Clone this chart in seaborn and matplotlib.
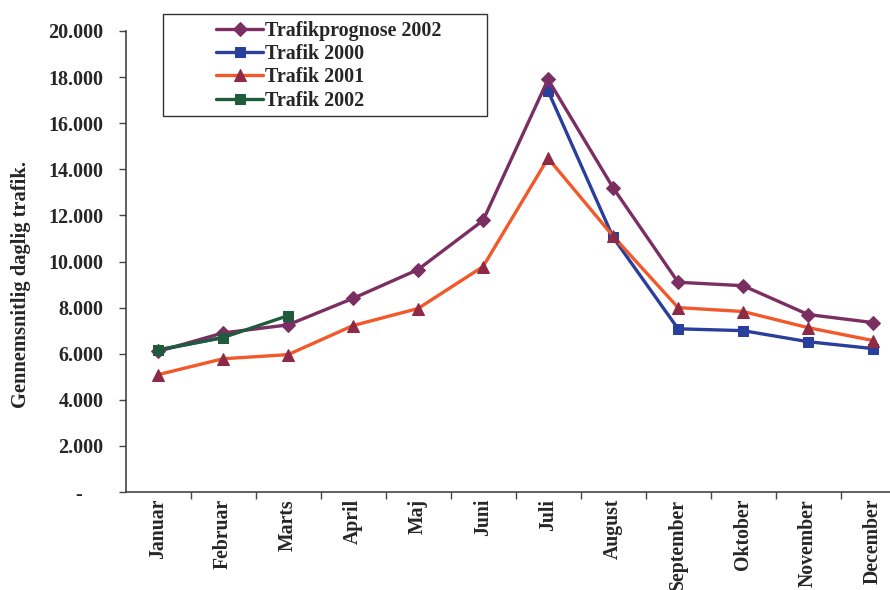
import numpy as np
import pandas as pd
import matplotlib
matplotlib.use("Agg")
import matplotlib.pyplot as plt
from matplotlib.ticker import FuncFormatter, FixedLocator
from matplotlib.patches import Rectangle
import seaborn as sns

months = ["Januar", "Februar", "Marts", "April", "Maj", "Juni", "Juli",
          "August", "September", "Oktober", "November", "December"]

prognose_2002 = [6100, 6900, 7250, 8400, 9650, 11780, 17900, 13200, 9100, 8950, 7700, 7350]
trafik_2000 = [6150, 6700, np.nan, np.nan, np.nan, np.nan, 17400, 11050, 7080, 7000, 6520, 6220]
trafik_2001 = [5090, 5780, 5960, 7220, 7960, 9780, 14480, 11100, 8000, 7830, 7130, 6570]
trafik_2002 = [6170, 6700, 7650, np.nan, np.nan, np.nan, np.nan, np.nan, np.nan, np.nan, np.nan, np.nan]

y_ticks = [0, 2000, 4000, 6000, 8000, 10000, 12000, 14000, 16000, 18000, 20000]

sns.set_style("ticks")
plt.rcParams["font.family"] = ["Liberation Serif", "DejaVu Serif"]
plt.rcParams["font.weight"] = "bold"

fig = plt.figure(figsize=(8.9, 5.9), dpi=100)
ax = fig.add_axes([125.5 / 890, 98 / 590, 764.5 / 890, 461 / 590])

pos = np.arange(len(months))
df = pd.DataFrame({
    "pos": pos,
    "Trafikprognose 2002": prognose_2002,
    "Trafik 2000": trafik_2000,
    "Trafik 2001": trafik_2001,
    "Trafik 2002": trafik_2002,
})

purple = "#7B2E62"
blue = "#2A3E9C"
orange = "#F2592A"
darkred = "#8E2A45"
green = "#1F5B3C"

lw = 2.4
ms = 7
# 2000 series: drawn in runs so the months without counts stay empty
s2000 = df[["pos", "Trafik 2000"]]
sns.lineplot(data=s2000.iloc[:2], x="pos", y="Trafik 2000", ax=ax, color=blue, lw=lw,
             marker="s", markersize=ms, markeredgecolor=blue, zorder=2,
             label="Trafik 2000")
sns.lineplot(data=s2000.iloc[6:], x="pos", y="Trafik 2000", ax=ax, color=blue, lw=lw,
             marker="s", markersize=ms, markeredgecolor=blue, zorder=2)
sns.lineplot(data=df, x="pos", y="Trafik 2001", ax=ax, color=orange, lw=lw,
             marker="^", markersize=ms + 1.5, markerfacecolor=darkred,
             markeredgecolor=darkred, zorder=3, label="Trafik 2001")
sns.lineplot(data=df, x="pos", y="Trafikprognose 2002", ax=ax, color=purple, lw=lw,
             marker="D", markersize=ms, markeredgecolor=purple, zorder=4,
             label="Trafikprognose 2002")
sns.lineplot(data=df[["pos", "Trafik 2002"]].dropna(), x="pos", y="Trafik 2002", ax=ax,
             color=green, lw=lw, marker="s", markersize=ms, markeredgecolor=green,
             zorder=5, label="Trafik 2002")

ax.set_xlim(-0.5, 11.26)
ax.set_ylim(0, 20000)

# Month labels centred on categories, tick marks on the category boundaries
ax.set_xticks(pos)
ax.set_xticklabels(months, rotation=90, fontsize=14.2, fontweight="bold")
ax.tick_params(axis="x", which="major", length=0, pad=5)
ax.xaxis.set_minor_locator(FixedLocator(pos[:-1] + 0.5))
ax.tick_params(axis="x", which="minor", length=5, width=1, color="#444444", direction="out")

ax.set_yticks(y_ticks)
ax.yaxis.set_major_formatter(FuncFormatter(
    lambda v, _: "-\u2007\u2007" if v == 0 else f"{int(v):,}".replace(",", ".")))
ax.tick_params(axis="y", length=5, width=1, color="#444444", labelsize=14.5, pad=11)
for lbl in ax.get_yticklabels():
    lbl.set_fontweight("bold")

ax.set_xlabel("")
ax.set_ylabel("Gennemsnitlig daglig trafik.", fontsize=14.8, fontweight="bold")
ax.yaxis.set_label_coords(-0.124, 0.45)

sns.despine(ax=ax)
for s in ("left", "bottom"):
    ax.spines[s].set_color("#444444")
    ax.spines[s].set_linewidth(1.2)

# Legend in the original series order, framed by a separate box
handles, labels = ax.get_legend_handles_labels()
order = ["Trafikprognose 2002", "Trafik 2000", "Trafik 2001", "Trafik 2002"]
hmap = dict(zip(labels, handles))
leg = ax.legend([hmap[k] for k in order], order, loc="upper left",
                bbox_to_anchor=(206 / 890, 1 - 11 / 590), bbox_transform=fig.transFigure,
                frameon=False, fontsize=14.4, handlelength=2.35, handletextpad=0.1,
                labelspacing=0.16, borderpad=0.0)
for t in leg.get_texts():
    t.set_fontweight("bold")
fig.patches.append(Rectangle((163 / 890, 1 - 116 / 590), (487 - 163) / 890, 102 / 590,
                             transform=fig.transFigure, fill=False,
                             edgecolor="#333333", linewidth=1.0))

fig.savefig("out.png", dpi=100)
